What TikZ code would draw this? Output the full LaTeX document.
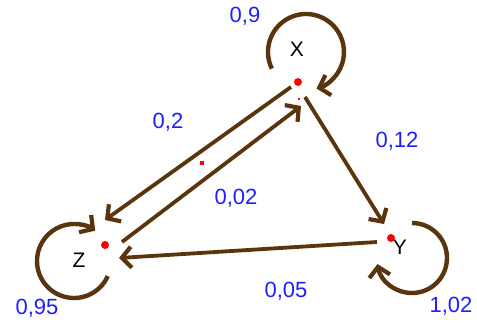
\documentclass[tikz,border=0pt]{standalone}
\usepackage{fontspec}
\setmainfont{Liberation Sans}
\usetikzlibrary{arrows.meta}
\definecolor{brn}{RGB}{90,52,12}
\definecolor{lblue}{RGB}{30,30,255}
\tikzset{
  dot/.style={circle,fill=red,inner sep=0pt,minimum size=8pt},
  prob/.style={text=lblue,font=\fontsize{22}{24}\selectfont,inner sep=0pt,text height=0.72em,text depth=0pt},
  state/.style={text=black,font=\fontsize{21}{23}\selectfont,inner sep=0pt,text height=0.72em,text depth=0pt},
  conn/.style={draw=brn,line width=3.8pt,-{Straight Barb[length=9.5pt,width=21pt,line width=4.2pt]}},
  loopc/.style={conn,line width=4.4pt},
}
\begin{document}
\begin{tikzpicture}[x=1pt,y=-1pt]
\useasboundingbox (0,0) rectangle (477,327);
% dots
\node[dot] (X) at (298,82) {};
\node[dot] (Z) at (105,245) {};
\node[dot] (Y) at (391,238) {};
\node[rectangle,fill=red,inner sep=0pt,minimum size=4pt] (m) at (202,163) {};
\node[rectangle,fill=red,inner sep=0pt,minimum size=1.5pt] (m2) at (299,99) {};
% state labels
\node[state] (lx) at (297,53) {X};
\node[state] (lz) at (79,264) {Z};
\node[state] (ly) at (400,251) {Y};
% connector ends
\coordinate (xy1) at (305,97);
\coordinate (xy2) at (384,224);
\coordinate (yz1) at (377,242);
\coordinate (yz2) at (119,258);
\coordinate (xz1) at (291,87);
\coordinate (xz2) at (105,220);
\coordinate (zx1) at (122,242);
\coordinate (zx2) at (301,106);
\draw[conn] (xy1) -- (xy2);
\draw[conn] (yz1) -- (yz2);
\draw[conn] (xz1) -- (xz2);
\draw[conn] (zx1) -- (zx2);
% loops
\coordinate (cx) at (306,52);
\coordinate (cz) at (74,261);
\coordinate (cy) at (412,258);
\draw[loopc] ([shift={(-206:38)}]cx) arc[start angle=-206,end angle=74,radius=38];
\draw[loopc] ([shift={(24:37)}]cz) arc[start angle=24,end angle=305,radius=37];
\draw[loopc] ([shift={(-90:35)}]cy) arc[start angle=-90,end angle=170,radius=35];
% probabilities
\node[prob] (p1) at (245,19) {0,9};
\node[prob] (p2) at (168,125) {0,2};
\node[prob] (p3) at (397,144) {0,12};
\node[prob] (p4) at (236,201) {0,02};
\node[prob] (p5) at (286,294) {0,05};
\node[prob] (p6) at (37,311) {0,95};
\node[prob] (p7) at (451,309) {1,02};
\end{tikzpicture}
\end{document}
